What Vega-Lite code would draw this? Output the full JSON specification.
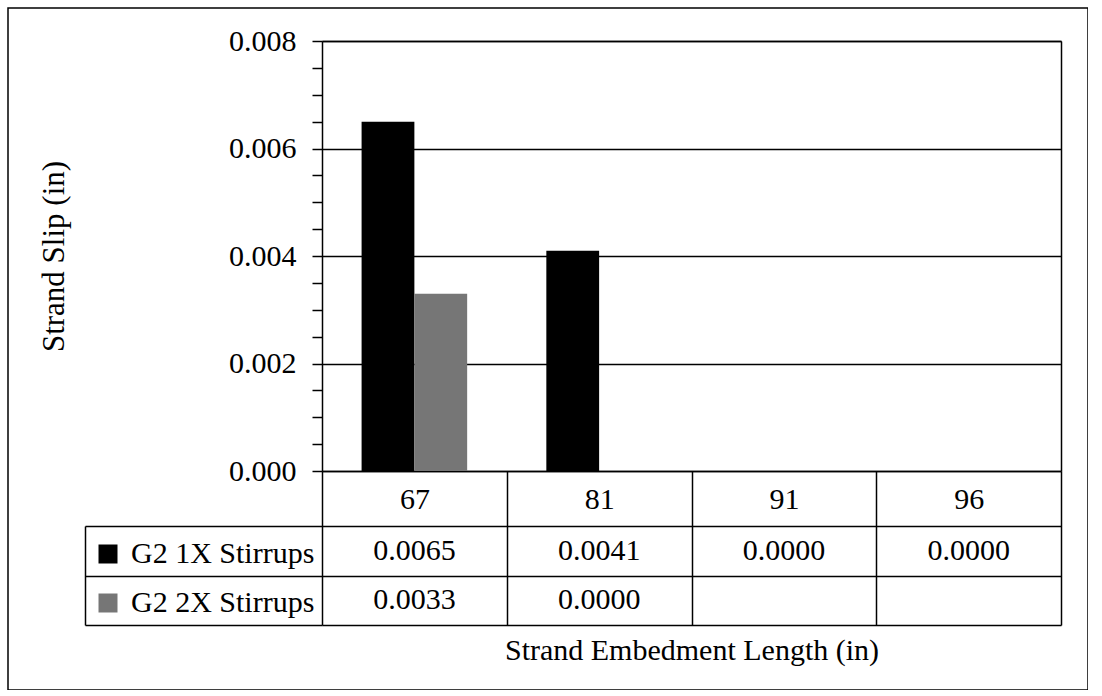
{
  "$schema": "https://vega.github.io/schema/vega-lite/v6.json",
  "width": 1080,
  "height": 682,
  "padding": {"left": 8, "top": 8, "right": 0, "bottom": 0},
  "autosize": {"type": "none"},
  "background": "white",
  "config": {
    "view": {"stroke": "#000000", "strokeWidth": 1.5},
    "font": "Liberation Serif",
    "axis": {"labelColor": "#000000", "titleColor": "#000000", "labelFont": "Liberation Serif", "titleFont": "Liberation Serif", "titleFontWeight": "normal"}
  },
  "data": {
    "values": [
      {"cat": 67, "series": "G2 1X Stirrups", "value": 0.0065, "label": "0.0065"},
      {"cat": 81, "series": "G2 1X Stirrups", "value": 0.0041, "label": "0.0041"},
      {"cat": 91, "series": "G2 1X Stirrups", "value": 0.0, "label": "0.0000"},
      {"cat": 96, "series": "G2 1X Stirrups", "value": 0.0, "label": "0.0000"},
      {"cat": 67, "series": "G2 2X Stirrups", "value": 0.0033, "label": "0.0033"},
      {"cat": 81, "series": "G2 2X Stirrups", "value": 0.0, "label": "0.0000"}
    ]
  },
  "layer": [
    {
      "mark": {"type": "bar", "strokeWidth": 0},
      "encoding": {
        "x": {
          "field": "cat", "type": "nominal",
          "scale": {"domain": [67, 81, 91, 96], "range": [314, 1053], "paddingInner": 0, "paddingOuter": 0},
          "axis": {
            "orient": "bottom", "offset": -219, "tickBand": "extent", "tickSize": 154,
            "tickColor": "#000000", "tickWidth": 1.5, "domainColor": "#000000", "domainWidth": 1.5,
            "labelAngle": 0, "labelFontSize": 30, "labelBaseline": "middle", "labelPadding": -126,
            "grid": false,
            "title": "Strand Embedment Length (in)", "titleFontSize": 30, "titlePadding": 10
          }
        },
        "xOffset": {
          "field": "series", "type": "nominal",
          "scale": {"domain": ["G2 1X Stirrups", "G2 2X Stirrups"], "paddingInner": 0, "paddingOuter": 0.75}
        },
        "y": {
          "field": "value", "type": "quantitative",
          "scale": {"domain": [0, 0.008], "range": [463, 33], "nice": false},
          "axis": {
            "orient": "left", "offset": -314,
            "values": [0, 0.0005, 0.001, 0.0015, 0.002, 0.0025, 0.003, 0.0035, 0.004, 0.0045, 0.005, 0.0055, 0.006, 0.0065, 0.007, 0.0075, 0.008],
            "labelExpr": "round(datum.value*2000) % 4 == 0 ? format(datum.value, '.3f') : ''",
            "labelOverlap": false, "labelFlush": false, "labelFontSize": 30, "labelPadding": 16,
            "tickSize": 10, "tickColor": "#000000", "tickWidth": 1.5,
            "domainColor": "#000000", "domainWidth": 1.5,
            "grid": true, "gridColor": "#000000", "gridWidth": 1.5,
            "gridOpacity": {"condition": {"test": "round(datum.value*2000) % 4 == 0", "value": 1}, "value": 0},
            "title": "Strand Slip (in)", "titleFontSize": 31, "titlePadding": 158
          }
        },
        "color": {
          "field": "series", "type": "nominal",
          "scale": {"domain": ["G2 1X Stirrups", "G2 2X Stirrups"], "range": ["#000000", "#767676"]},
          "legend": {
            "title": null, "orient": "none", "legendX": 85, "legendY": 531,
            "symbolType": "square", "symbolSize": 361, "symbolStrokeWidth": 0, "symbolOpacity": 1,
            "labelFont": "Liberation Serif", "labelFontSize": 30, "labelColor": "#000000", "labelOffset": 8,
            "labelLimit": 400, "rowPadding": 19, "padding": 0, "direction": "vertical"
          }
        }
      }
    },
    {
      "mark": {"type": "text", "font": "Liberation Serif", "fontSize": 30, "color": "#000000", "baseline": "middle", "align": "center"},
      "encoding": {
        "x": {
          "field": "cat", "type": "nominal",
          "axis": {
            "orient": "top", "offset": -33, "labels": false, "tickBand": "extent", "tickSize": -430,
            "tickColor": "#000000", "tickWidth": 1.5, "domainColor": "#000000", "domainWidth": 1.5,
            "tickOpacity": {"condition": {"test": "datum.value == 96", "value": 1}, "value": 0},
            "grid": false, "title": null
          }
        },
        "y": {
          "field": "series", "type": "nominal",
          "scale": {"domain": ["G2 1X Stirrups", "G2 2X Stirrups"], "range": [518, 617], "paddingInner": 0, "paddingOuter": 0},
          "axis": {
            "orient": "left", "offset": -77, "labels": false, "tickBand": "extent", "tickSize": -237,
            "tickColor": "#000000", "tickWidth": 1.5, "domainColor": "#000000", "domainWidth": 1.5,
            "grid": true, "gridColor": "#000000", "gridWidth": 1.5, "title": null
          }
        },
        "text": {"field": "label", "type": "nominal"}
      }
    }
  ],
  "resolve": {"scale": {"y": "independent"}, "axis": {"x": "independent", "y": "independent"}}
}
